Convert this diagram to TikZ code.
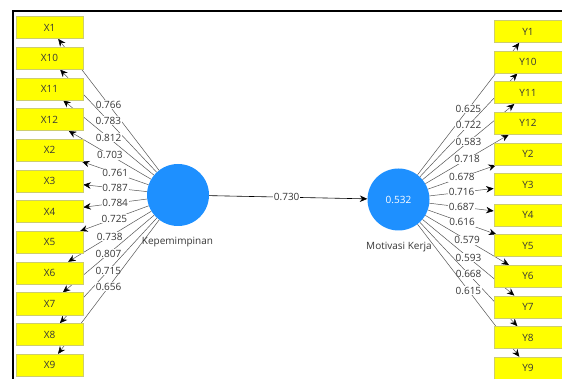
\documentclass[tikz,border=0pt]{standalone}
\usepackage{fontspec}
\setmainfont{Open Sans}
\usetikzlibrary{arrows.meta}
\pgfdeclarelayer{paper}
\pgfdeclarelayer{bg}
\pgfsetlayers{paper,bg,main}
\definecolor{boxy}{RGB}{255,255,0}
\definecolor{boxline}{RGB}{205,205,110}
\definecolor{latblue}{RGB}{30,144,255}
\definecolor{linegray}{RGB}{85,85,85}
\definecolor{txtgray}{RGB}{55,55,55}
\begin{document}
\begin{tikzpicture}[x=1pt,y=-1pt,
  font=\fontsize{10}{12}\selectfont,
  ind/.style={draw=boxline, line width=0.6pt, fill=boxy, minimum width=67pt,
    minimum height=22pt, inner sep=0pt, text=txtgray},
  lat/.style={circle, fill=latblue, minimum size=62pt, inner sep=0pt, text=white},
  load/.style={draw=linegray, line width=0.5pt, -{Stealth[length=7.5pt,width=6.5pt,color=black]}},
  pathline/.style={draw=black, line width=0.6pt, -{Stealth[length=7.5pt,width=6.5pt]}},
  lbl/.style={fill=white, inner sep=0.8pt, text=txtgray},
  lvname/.style={text=txtgray, inner sep=0pt}]
\clip (0,0) rectangle (562,379);
\begin{pgfonlayer}{paper}
\fill[white] (0,0) rectangle (562,379);
\end{pgfonlayer}
\draw[line width=2pt] (13,385) -- (13,11) -- (566,11);
\node[lat] (K) at (178,195) {};
\node[lat] (M) at (398.5,199.5) {0.532};
\node[lvname] (KL) at (177.5,242) {Kepemimpinan};
\node[lvname] (ML) at (399,247) {Motivasi Kerja};
\foreach \n [count=\i from 0] in {X1,X10,X11,X12,X2,X3,X4,X5,X6,X7,X8,X9}
  \node[ind] (\n) at (49.5,27.5+30.7*\i) {\n};
\foreach \n [count=\i from 0] in {Y1,Y10,Y11,Y12,Y2,Y3,Y4,Y5,Y6,Y7,Y8,Y9}
  \node[ind, minimum width=68pt] (\n) at (528,31.5+30.6*\i) {\n};
\begin{pgfonlayer}{bg}
\foreach \n/\v in {X1/0.766,X10/0.783,X11/0.812,X12/0.703,X2/0.761,X3/0.787,
    X4/0.784,X5/0.725,X6/0.738,X7/0.807,X8/0.715,X9/0.656}
  \draw[load] (K) -- node[lbl]{\v} (\n);
\foreach \n/\v in {Y1/0.625,Y10/0.722,Y11/0.583,Y12/0.718,Y2/0.678,Y3/0.716,
    Y4/0.687,Y5/0.616,Y6/0.579,Y7/0.593,Y8/0.668,Y9/0.615}
  \draw[load] (M) -- node[lbl]{\v} (\n);
\end{pgfonlayer}
\draw[pathline] (K) -- node[lbl,pos=0.49]{0.730} (M);
\end{tikzpicture}
\end{document}
